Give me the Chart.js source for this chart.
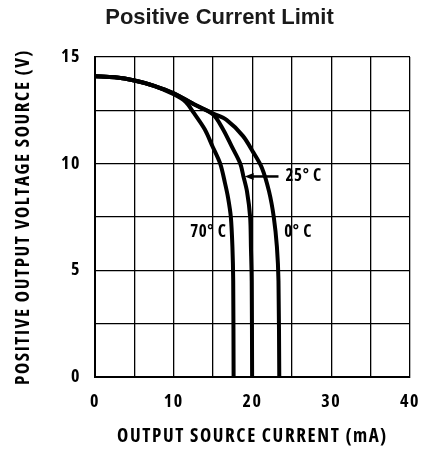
<!DOCTYPE html>
<html>
<head>
<meta charset="utf-8">
<script src="https://cdn.jsdelivr.net/npm/chart.js@4.4.0/dist/chart.umd.min.js"></script>
<style>
  html, body { margin: 0; padding: 0; background: #fff; }
</style>
</head>
<body>
<canvas id="limitChart" width="427" height="450"></canvas>
<script>
// Curves: output source current (mA) vs output voltage (V)
const current70 = [0, 2.5, 5, 7.5, 10, 11.5, 12.5, 13.95, 14.9, 15.9, 16.5, 16.9, 17.25, 17.45, 17.55, 17.6];
const voltage70 = [14.1, 14.05, 13.9, 13.65, 13.25, 12.9, 12.4, 11.6, 10.83, 10.0, 9.1, 8.4, 7.5, 6.1, 4.5, 0];

const current25 = [0, 2.5, 5, 7.5, 10, 12.5, 15, 16.27, 17.33, 18.45, 18.85, 19.3, 19.7, 19.8, 19.9, 19.95];
const voltage25 = [14.1, 14.05, 13.9, 13.65, 13.3, 12.8, 12.3, 11.6, 10.83, 10.0, 9.4, 8.7, 7.5, 6.1, 4.5, 0];

const current0 = [0, 2.5, 5, 7.5, 10, 12.5, 15, 16.7, 18.8, 20.1, 21.2, 22.1, 22.7, 23.1, 23.3, 23.4];
const voltage0 = [14.1, 14.05, 13.9, 13.65, 13.3, 12.8, 12.35, 12.05, 11.29, 10.53, 9.8, 8.7, 7.5, 6.1, 4.5, 0];

const curveNames = ["70° C", "25° C", "0° C"];

// labelled tick values (grid lines sit every 5 mA / 2.5 V)
const xTicks = [0, 10, 20, 30, 40];
const yTicks = [0, 5, 10, 15];

const chartTitle = "Positive Current Limit";

// where the temperature labels sit (data units)
const labelSpots = [
    { text: "70° C", x: 14.4, y: 6.8 },
    { text: "25° C", x: 26.5, y: 9.4 },
    { text: "0° C", x: 25.8, y: 6.8 }
];
const arrowFrom = { x: 23.3, y: 9.4 };
const arrowTo = { x: 19.0, y: 9.4 };

// Open Sans is installed with a condensed face; font-stretch rides in the weight slot
const narrow = "'Open Sans', sans-serif";
const heavy = "bold condensed";

function toPoints(xs, ys) {
    return xs.map((x, i) => ({ x: x, y: ys[i] }));
}

function curve(label, xs, ys) {
    return {
        label: label,
        data: toPoints(xs, ys),
        showLine: true,
        borderColor: "#000",
        borderWidth: 4,
        pointRadius: 0,
        tension: 0.3,
        fill: false
    };
}

// the scan's axis lettering is spread out a bit
const spacingPlugin = {
    id: "spacing",
    beforeDraw(chart) {
        chart.ctx.letterSpacing = "1.6px";
    },
    afterDraw(chart) {
        const ctx = chart.ctx;
        ctx.letterSpacing = "0px";
        // main heading, sits a touch right of centre like the original
        ctx.save();
        ctx.fillStyle = "#1a1a1a";
        ctx.font = "bold 22px 'Liberation Sans', Arial, sans-serif";
        ctx.textAlign = "center";
        ctx.textBaseline = "middle";
        ctx.fillText(chartTitle, chart.width / 2 + 6, 18);
        ctx.restore();
    }
};

// temperature labels + the little arrow for 25° C
const tempLabelPlugin = {
    id: "tempLabels",
    afterDatasetsDraw(chart) {
        const ctx = chart.ctx;
        const xs = chart.scales.x;
        const ys = chart.scales.y;
        ctx.save();
        ctx.letterSpacing = "0.6px";
        ctx.fillStyle = "#000";
        ctx.strokeStyle = "#000";
        ctx.font = heavy + " 17px " + narrow;
        ctx.textAlign = "center";
        ctx.textBaseline = "middle";
        labelSpots.forEach(l => {
            ctx.fillText(l.text, xs.getPixelForValue(l.x), ys.getPixelForValue(l.y));
        });

        const x1 = xs.getPixelForValue(arrowFrom.x);
        const x2 = xs.getPixelForValue(arrowTo.x);
        const y = ys.getPixelForValue(arrowFrom.y);
        ctx.lineWidth = 2.5;
        ctx.beginPath();
        ctx.moveTo(x1, y);
        ctx.lineTo(x2 + 7, y);
        ctx.stroke();
        ctx.beginPath();
        ctx.moveTo(x2, y);
        ctx.lineTo(x2 + 9, y - 3.5);
        ctx.lineTo(x2 + 9, y + 3.5);
        ctx.closePath();
        ctx.fill();
        ctx.restore();
    }
};

new Chart(document.getElementById("limitChart"), {
    type: "scatter",
    data: {
        datasets: [
            curve(curveNames[0], current70, voltage70),
            curve(curveNames[1], current25, voltage25),
            curve(curveNames[2], current0, voltage0)
        ]
    },
    options: {
        responsive: false,
        animation: false,
        layout: { padding: { left: 20, right: 17, top: 57, bottom: 0 } },
        plugins: {
            legend: { display: false },
            tooltip: { enabled: false },
            title: { display: false }
        },
        scales: {
            x: {
                type: "linear",
                min: 0,
                max: 40,
                afterFit: (scale) => { scale.height = 73; },
                ticks: {
                    stepSize: 5,
                    autoSkip: false,
                    maxRotation: 0,
                    padding: 0,
                    color: "#000",
                    font: { family: narrow, size: 18, weight: heavy },
                    callback: v => (xTicks.includes(v) ? v : "")
                },
                grid: { color: "#000", lineWidth: 1.3, drawTicks: true, tickLength: 14, tickColor: "rgba(0,0,0,0)" },
                border: { color: "#000", width: 2 },
                title: {
                    display: true,
                    text: "OUTPUT SOURCE CURRENT (mA)",
                    color: "#000",
                    font: { family: narrow, size: 19, weight: heavy },
                    padding: { top: 0, bottom: 2 }
                }
            },
            y: {
                type: "linear",
                min: 0,
                max: 15,
                afterFit: (scale) => { scale.width = 75; },
                ticks: {
                    stepSize: 2.5,
                    autoSkip: false,
                    padding: 14,
                    color: "#000",
                    font: { family: narrow, size: 18, weight: heavy },
                    callback: v => (yTicks.includes(v) ? v : "")
                },
                grid: { color: "#000", lineWidth: 1.3, drawTicks: false },
                border: { color: "#000", width: 2 },
                title: {
                    display: true,
                    text: "POSITIVE OUTPUT VOLTAGE SOURCE (V)",
                    color: "#000",
                    font: { family: narrow, size: 19, weight: heavy },
                    padding: { top: -8, bottom: 0 }
                }
            }
        }
    },
    plugins: [spacingPlugin, tempLabelPlugin]
});
</script>
</body>
</html>
